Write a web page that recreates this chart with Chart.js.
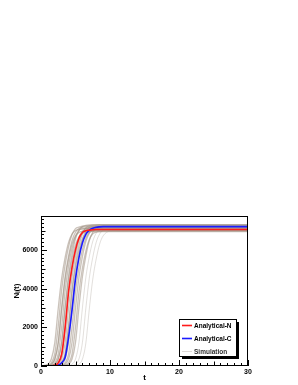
<!DOCTYPE html>
<html><head><meta charset="utf-8">
<script src="https://cdn.jsdelivr.net/npm/chart.js@4/dist/chart.umd.min.js"></script>
<style>html,body{margin:0;padding:0;background:#fff;}canvas{display:block;}</style>
</head><body>
<canvas id="c" width="298" height="385"></canvas>
<script>
// time grid (t)
const tGrid = [0,1,1.5,2,2.5,3,3.5,4,4.5,5,5.5,6,6.5,7,7.5,8,8.5,9,10,30];
// analytical curves
const analyticalN = [0,2,10,40,160,620,2000,3850,5100,6000,6600,6900,6990,7020,7040,7050,7050,7050,7050,7050];
const analyticalC = [0,1,3,10,45,170,450,1500,2900,4500,5600,6350,6800,7020,7120,7170,7190,7200,7200,7200];
// simulation runs
const simA = [0,90,360,1210,2980,4540,5610,6390,6820,7000,7060,7090,7100,7100,7100,7100,7100,7100,7100,7100];
const simB = [0,40,170,640,2060,3960,5240,6170,6790,7100,7180,7220,7240,7250,7250,7250,7250,7250,7250,7250];
const simC = [0,20,90,360,1220,3020,4610,5690,6480,6910,7100,7160,7190,7200,7200,7200,7200,7200,7200,7200];
const simD = [0,20,90,350,1190,2940,4480,5530,6300,6720,6900,6960,6990,7000,7000,7000,7000,7000,7000,7000];
const simE = [0,10,40,160,630,2030,3900,5170,6080,6690,7000,7090,7120,7140,7150,7150,7150,7150,7150,7150];
const simF = [0,0,20,90,350,1180,2920,4450,5490,6260,6670,6850,6910,6940,6950,6950,6950,6950,6950,6950];
const simG = [0,0,20,90,370,1240,3070,4670,5770,6570,7010,7200,7260,7290,7300,7300,7300,7300,7300,7300];
const simH = [0,0,10,40,160,620,2020,3880,5130,6040,6650,6950,7040,7070,7090,7100,7100,7100,7100,7100];
const simI = [0,0,0,20,90,360,1220,3020,4610,5690,6480,6910,7100,7160,7190,7200,7200,7200,7200,7200];
const simJ = [0,0,0,10,40,160,620,1990,3820,5060,5960,6550,6850,6940,6970,6990,7000,7000,7000,7000];
const simK = [0,0,0,10,40,170,650,2080,3980,5280,6220,6830,7140,7240,7270,7290,7300,7300,7300,7300];
const simL = [0,0,0,0,20,90,360,1230,3050,4640,5730,6530,6960,7150,7210,7240,7250,7250,7250,7250];
const simM = [0,0,0,0,10,40,160,620,2000,3850,5100,6000,6600,6900,6990,7020,7040,7050,7050,7050];
const simN = [0,0,0,0,0,20,90,360,1220,3000,4580,5650,6440,6860,7050,7110,7140,7150,7150,7150];
const simO = [0,0,0,0,0,10,40,160,610,1980,3810,5050,5940,6530,6830,6920,6950,6970,6980,6980];
const simP = [0,0,0,0,0,0,20,90,360,1220,3020,4610,5690,6480,6910,7100,7160,7190,7200,7200];
const simQ = [0,0,0,0,0,0,0,20,90,360,1220,3000,4580,5650,6440,6860,7050,7110,7150,7150];
const simR = [0,0,0,0,0,0,0,0,20,90,360,1210,2980,4540,5610,6390,6820,7000,7090,7100];
const simS = [0,0,0,0,0,0,0,0,0,20,90,350,1190,2940,4480,5530,6300,6720,6960,7000];
const simulationRuns = [simA,simB,simC,simD,simE,simF,simG,simH,simI,simJ,simK,simL,simM,simN,simO,simP,simQ,simR,simS];
// labels and ticks
const seriesLabels = ['Analytical-N','Analytical-C','Simulation'];
const xTicks = [0,10,20,30];
const yTicks = [0,2000,4000,6000];
const xTitle = 't';
const yTitle = 'N\u1D62(t)';

const FONT = "'Liberation Sans', Arial, Helvetica, sans-serif";
const pts = arr => tGrid.map((t,i)=>({x:t,y:arr[i]}));
const datasets = [
  {label:seriesLabels[0], data:pts(analyticalN), borderColor:'#ff1a1a', borderWidth:1.6},
  {label:seriesLabels[1], data:pts(analyticalC), borderColor:'#1a1aff', borderWidth:1.6}
];
simulationRuns.forEach((r,i)=>datasets.push({label:seriesLabels[2], data:pts(r),
  borderColor: i>=16 ? 'rgba(160,148,138,0.3)' : 'rgba(160,145,132,0.55)', borderWidth: i>=16 ? 1 : 1.3}));

const framePlugin = {
  id:'frame',
  afterDatasetsDraw(chart){
    const {ctx, chartArea:a, scales:{x,y}} = chart;
    ctx.save();
    ctx.strokeStyle='#000'; ctx.lineWidth=1;
    ctx.strokeRect(Math.round(a.left)+0.5, Math.round(a.top)+0.5, Math.round(a.right-a.left)-1, Math.round(a.bottom-a.top)-1);
    ctx.beginPath();
    for(let v=0; v<=y.max; v+=200){
      const py=Math.round(y.getPixelForValue(v))+0.5;
      const len = v%2000===0?6:(v%1000===0?4.5:3);
      ctx.moveTo(a.left, py); ctx.lineTo(a.left+len, py);
    }
    for(let v=0; v<=x.max; v+=1){
      const px=Math.round(x.getPixelForValue(v))+0.5;
      const len = v%10===0?6:(v%5===0?4.5:3);
      ctx.moveTo(px, a.bottom); ctx.lineTo(px, a.bottom-len);
    }
    ctx.stroke();
    ctx.restore();
  },
  afterDraw(chart){
    const {ctx, chartArea:a} = chart;
    const w=57, h=37;
    const left=Math.round(a.right-69)+0.5, top=Math.round(a.bottom-47)+0.5;
    ctx.save();
    ctx.fillStyle='#000';
    ctx.fillRect(left+2.5, top+2.5, w, h);
    ctx.fillStyle='#fff';
    ctx.fillRect(left, top, w, h);
    ctx.strokeStyle='#000'; ctx.lineWidth=1;
    ctx.strokeRect(left, top, w, h);
    const entries=[datasets[0], datasets[1], datasets[2]];
    ctx.font='bold 6.5px '+FONT;
    ctx.textBaseline='middle'; ctx.textAlign='left';
    entries.forEach((d,i)=>{
      const yy = top + 6 + i*13;
      ctx.strokeStyle = i===2 ? 'rgba(200,192,186,0.6)' : d.borderColor;
      ctx.lineWidth = i===2?1:1.6;
      ctx.beginPath(); ctx.moveTo(left+2.5, yy); ctx.lineTo(left+12.5, yy); ctx.stroke();
      ctx.fillStyle = i===2 ? '#333' : '#000';
      ctx.fillText(d.label, left+14.5, yy+0.5);
    });
    ctx.restore();
  }
};

new Chart(document.getElementById('c'), {
  type:'line',
  data:{datasets},
  options:{
    responsive:false, animation:false, devicePixelRatio:1,
    layout:{padding:{left:0, right:50, top:216, bottom:0}},
    elements:{point:{radius:0}, line:{cubicInterpolationMode:'monotone', fill:false}},
    plugins:{legend:{display:false}, tooltip:{enabled:false}},
    scales:{
      x:{type:'linear', min:0, max:30,
        afterBuildTicks:s=>{s.ticks=xTicks.map(v=>({value:v}));},
        afterFit:s=>{s.height=19;},
        grid:{display:false, drawTicks:false, tickLength:0}, border:{display:false},
        ticks:{padding:2, color:'#000', font:{family:FONT, size:7, weight:'bold'}, maxRotation:0, autoSkip:false, callback:v=>String(v)},
        title:{display:true, text:xTitle, color:'#000', font:{family:FONT, size:8, weight:'bold'}, padding:{top:0,bottom:2}}
      },
      y:{type:'linear', min:0, max:7750,
        afterBuildTicks:s=>{s.ticks=yTicks.map(v=>({value:v}));},
        afterFit:s=>{s.width=41;},
        grid:{display:false, drawTicks:false, tickLength:0}, border:{display:false},
        ticks:{padding:3, color:'#000', font:{family:FONT, size:7, weight:'bold'}, callback:v=>String(v)},
        title:{display:true, text:yTitle, color:'#000', font:{family:FONT, size:8, weight:'bold'}, padding:{top:12,bottom:0}}
      }
    }
  },
  plugins:[framePlugin]
});
</script>
</body></html>
